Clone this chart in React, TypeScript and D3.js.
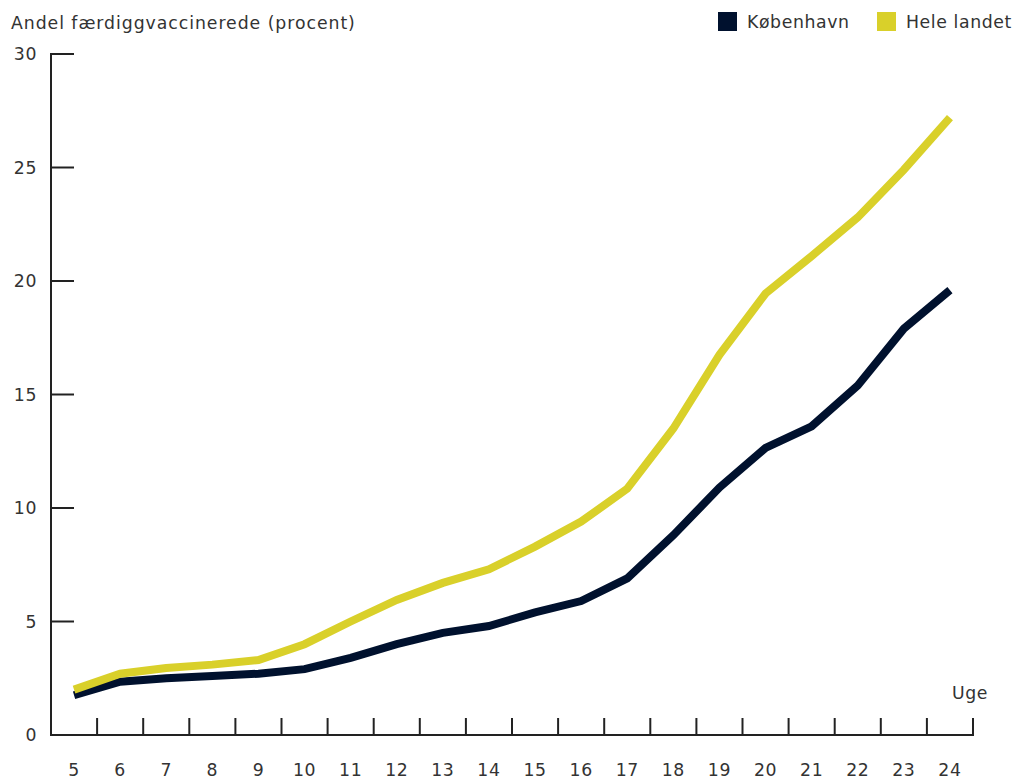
import React from "react";
import * as d3 from "d3";

const weeks = [5, 6, 7, 8, 9, 10, 11, 12, 13, 14, 15, 16, 17, 18, 19, 20, 21, 22, 23, 24];
const kobenhavn = [1.75, 2.35, 2.5, 2.6, 2.7, 2.9, 3.4, 4.0, 4.5, 4.8, 5.4, 5.9, 6.9, 8.8, 10.9, 12.65, 13.6, 15.4, 17.9, 19.6];
const heleLandet = [2.0, 2.7, 2.95, 3.1, 3.3, 4.0, 5.0, 5.95, 6.7, 7.3, 8.3, 9.4, 10.85, 13.5, 16.75, 19.45, 21.1, 22.8, 24.9, 27.2];
const yTicks = [0, 5, 10, 15, 20, 25, 30];
const seriesNames = ["København", "Hele landet"];
const colors = ["#00112e", "#d9d02a"];

const W = 1013;
const H = 780;
const left = 51;
const right = 973;
const top = 54;
const bottom = 735;
const font = "'DejaVu Sans', sans-serif";
const fs = 17.3;
const ls = 0.6;
const textColor = "#333";
const axisColor = "#222";

export default function App() {
  const x = d3.scaleBand<number>().domain(weeks).range([left, right]);
  const y = d3.scaleLinear().domain([0, 30]).range([bottom, top]);
  const cx = (w: number) => (x(w) as number) + x.bandwidth() / 2;
  const line = d3
    .line<number>()
    .x((_, i) => cx(weeks[i]))
    .y((d) => y(d));
  const series = [kobenhavn, heleLandet];
  const boundaries = weeks.map((w) => (x(w) as number) + x.bandwidth());

  return (
    <svg
      width={W}
      height={H}
      style={{ position: "absolute", left: 0, top: 0, background: "#fff" }}
      fontFamily={font}
      fontSize={fs}
      letterSpacing={ls}
    >
      <text x={11} y={29} fill={textColor} letterSpacing={0.95}>
        Andel færdiggvaccinerede (procent)
      </text>
      {/* legend */}
      <g>
        <rect x={718} y={12} width={19} height={19} fill={colors[0]} />
        <text x={747} y={28} fill={textColor}>
          {seriesNames[0]}
        </text>
        <rect x={877} y={12} width={19} height={19} fill={colors[1]} />
        <text x={906} y={28} fill={textColor}>
          {seriesNames[1]}
        </text>
      </g>
      {/* y axis */}
      <line x1={left} x2={left} y1={top - 1} y2={bottom + 1} stroke={axisColor} strokeWidth={2} />
      {yTicks.map((t) => (
        <g key={t}>
          <line x1={left} x2={74} y1={y(t)} y2={y(t)} stroke={axisColor} strokeWidth={2} />
          <text x={37} y={y(t)} dy="0.35em" textAnchor="end" fill={textColor}>
            {t}
          </text>
        </g>
      ))}
      {/* x axis */}
      <line x1={left} x2={right + 1} y1={bottom} y2={bottom} stroke={axisColor} strokeWidth={2} />
      {boundaries.map((b, i) => (
        <line key={i} x1={b} x2={b} y1={bottom} y2={718} stroke={axisColor} strokeWidth={2} />
      ))}
      {weeks.map((w) => (
        <text key={w} x={cx(w)} y={776} textAnchor="middle" fill={textColor}>
          {w}
        </text>
      ))}
      <text x={988} y={699} textAnchor="end" fill={textColor}>
        Uge
      </text>
      {/* lines */}
      {series.map((s, i) => (
        <path
          key={i}
          d={line(s) as string}
          fill="none"
          stroke={colors[i]}
          strokeWidth={8}
          strokeLinejoin="miter"
        />
      ))}
    </svg>
  );
}
